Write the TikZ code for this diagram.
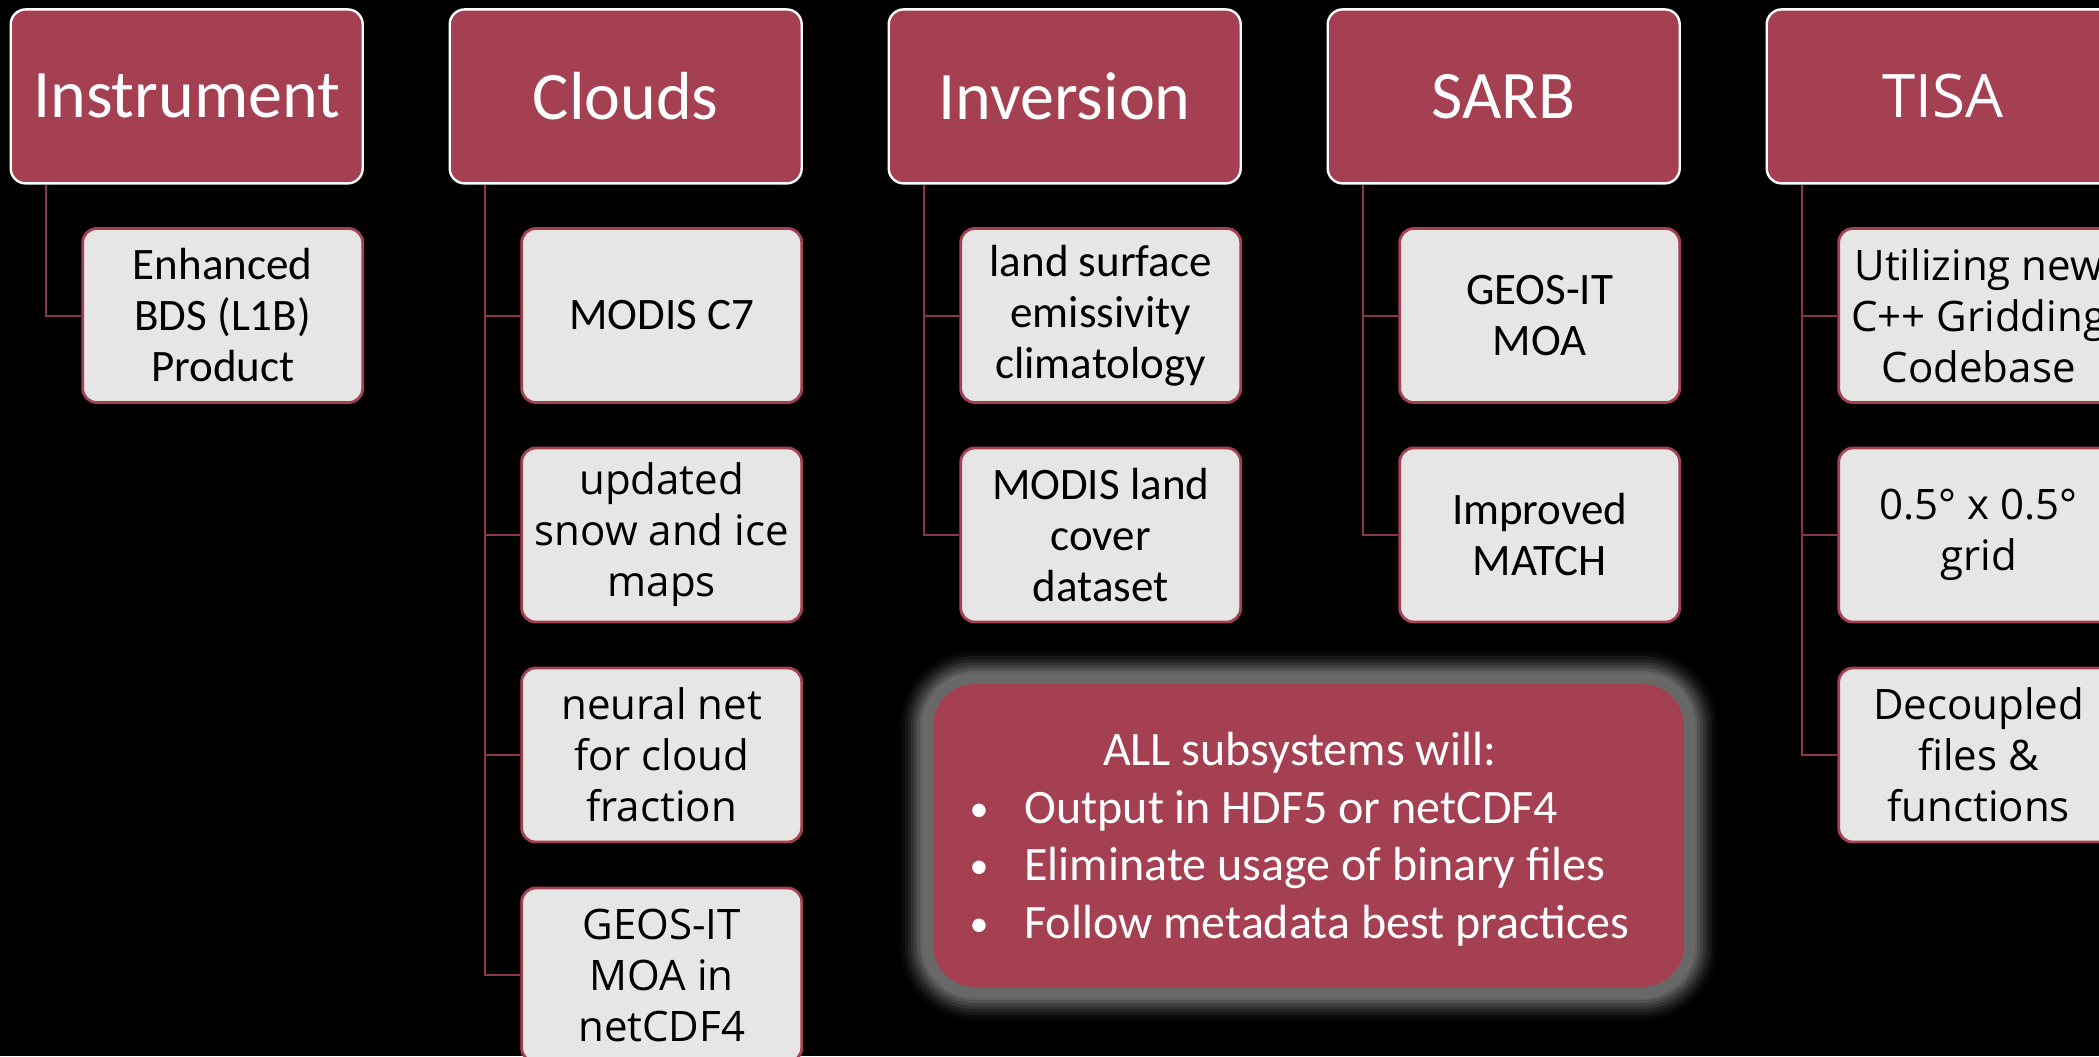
\documentclass[tikz,border=0pt]{standalone}
\usepackage{fontspec}
\setmainfont{Carlito}
\newfontfamily\opensans{Open Sans}
\definecolor{maroon}{RGB}{165,64,82}
\definecolor{linkred}{RGB}{140,55,70}
\definecolor{boxgray}{RGB}{230,230,230}
\definecolor{glowgray}{RGB}{104,104,104}
\newcommand{\dotitem}{\raisebox{1pt}{\fontsize{19}{19}\selectfont\textbullet}}

\begin{document}
\begin{tikzpicture}[x=0.5pt, y=-0.5pt,
    head/.style={draw=white, line width=1.2pt, fill=maroon, rounded corners=7.5pt,
        minimum width=176pt, minimum height=87pt, text=white,
        font=\fontsize{34}{40}\selectfont},
    item/.style={draw=maroon, line width=1.4pt, fill=boxgray, rounded corners=7pt,
        minimum width=140pt, minimum height=87pt, inner sep=0pt, align=center,
        font=\fontsize{22.5}{25.5}\selectfont},
    wide/.style={font=\opensans\fontsize{21}{25.5}\selectfont},
    link/.style={draw=linkred, line width=1pt}]
    \useasboundingbox (0,0) rectangle (2099,1056);
    \clip (0,0) rectangle (2099,1056);
    \fill [black] (0,0) rectangle (2099,1056);
    % top row
    \node [head] (instr) at (186.7,96.4) {Instrument};
    \node [head] (clouds) at (625.7,96.4) {Clouds};
    \node [head] (inv) at (1064.7,96.4) {Inversion};
    \node [head] (sarb) at (1503.7,96.4) {SARB};
    \node [head, font=\opensans\fontsize{30}{36}\selectfont] (tisa) at (1942.7,96.4) {TISA};
    % sub items
    \node [item] (instr1) at (222.7,315.5) {Enhanced\\BDS (L1B)\\Product};
    \node [item] (cld1) at (661.7,315.5) {MODIS C7};
    \node [item, wide] (cld2) at (661.7,535) {updated\\snow and ice\\maps};
    \node [item, wide] (cld3) at (661.7,755) {neural net\\for cloud\\fraction};
    \node [item, wide] (cld4) at (661.7,975) {GEOS-IT\\MOA in\\netCDF4};
    \node [item] (inv1) at (1100.7,315.5) {land surface\\emissivity\\climatology};
    \node [item] (inv2) at (1100.7,535) {MODIS land\\cover\\dataset};
    \node [item] (sarb1) at (1539.7,315.5) {GEOS-IT\\MOA};
    \node [item] (sarb2) at (1539.7,535) {Improved\\MATCH};
    \node [item, wide] (tisa1) at (1978.7,315.5) {Utilizing new\\C++ Gridding\\Codebase};
    \node [item, wide] (tisa2) at (1978.7,535) {0.5° x 0.5°\\grid};
    \node [item, wide] (tisa3) at (1978.7,755) {Decoupled\\files \&\\functions};
    % trunks
    \coordinate (instr-t) at ([xshift=18pt]instr.south west);
    \coordinate (cld-t) at ([xshift=18pt]clouds.south west);
    \coordinate (inv-t) at ([xshift=18pt]inv.south west);
    \coordinate (sarb-t) at ([xshift=18pt]sarb.south west);
    \coordinate (tisa-t) at ([xshift=18pt]tisa.south west);
    \draw [link] (instr-t) |- (instr1.west);
    \foreach \c in {cld1,cld2,cld3,cld4}
    \draw [link] (cld-t) |- (\c.west);
    \foreach \c in {inv1,inv2}
    \draw [link] (inv-t) |- (\c.west);
    \foreach \c in {sarb1,sarb2}
    \draw [link] (sarb-t) |- (\c.west);
    \foreach \c in {tisa1,tisa2,tisa3}
    \draw [link] (tisa-t) |- (\c.west);
    % glow round the note
    \foreach \w/\c in {34/5,31/12,28/22,25/34,22/48,19/62,16/78,13/92,11/100}
    \draw [glowgray!\c!black, line width=\w pt, rounded corners=21pt] (933,684) rectangle (1684,987);
    \node [fill=maroon, rounded corners=21pt, minimum width=375.5pt, minimum height=151.5pt] (all) at (1308.5,835.5) {};
    \node [text=white, font=\fontsize{24}{28.8}\selectfont] (alltext) at ([xshift=-4.5pt, yshift=-2.5pt]all.center) {%
        \begin{tabular}{@{}l@{\hspace{18pt}}l@{}}
        \multicolumn{2}{c}{ALL subsystems will:}\\
        \dotitem & Output in HDF5 or netCDF4\\
        \dotitem & Eliminate usage of binary files\\
        \dotitem & Follow metadata best practices
        \end{tabular}};
\end{tikzpicture}
\end{document}
